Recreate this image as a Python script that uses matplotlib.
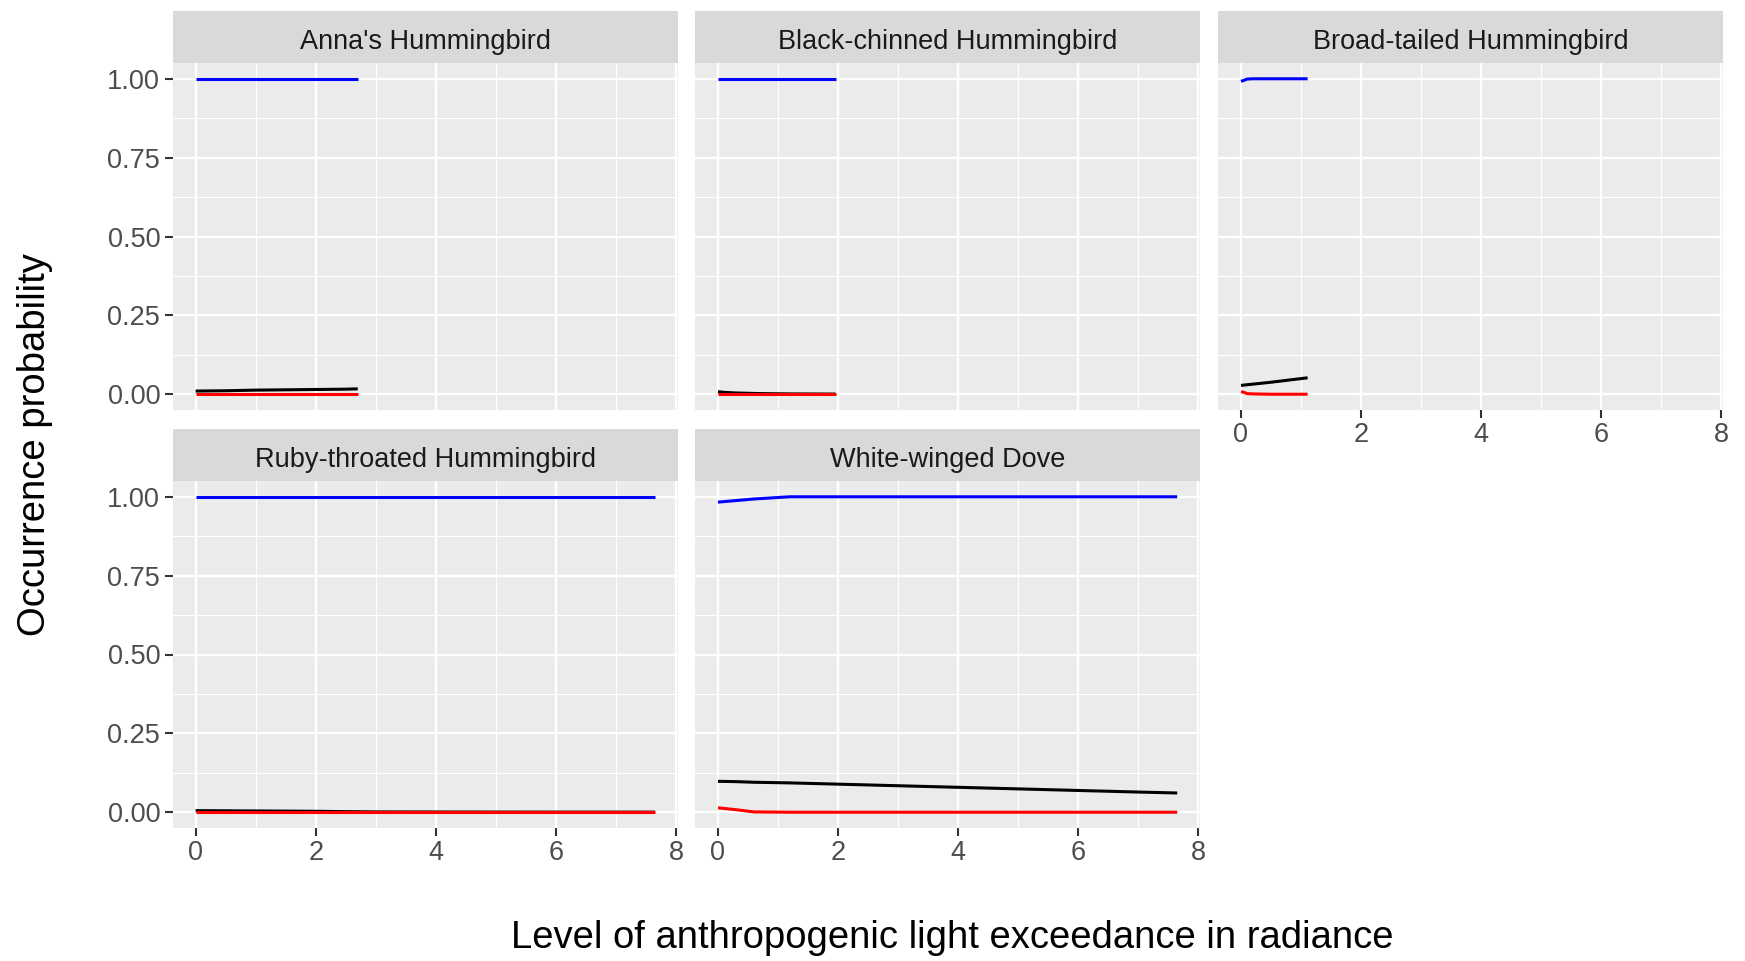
import numpy as np
import matplotlib.pyplot as plt

plt.rcParams['font.family'] = ['Liberation Sans', 'DejaVu Sans']

# species (facet order)
species = ["Anna's Hummingbird", "Black-chinned Hummingbird", "Broad-tailed Hummingbird",
           "Ruby-throated Hummingbird", "White-winged Dove"]

# radiance values and predicted probabilities
anna_x = [0, 0.5, 1.0, 1.5, 2.0, 2.5, 2.7]
anna_blue = [1.0, 1.0, 1.0, 1.0, 1.0, 1.0, 1.0]
anna_black = [0.010, 0.011, 0.013, 0.014, 0.015, 0.016, 0.017]
anna_red = [0.001, 0.001, 0.001, 0.001, 0.001, 0.001, 0.001]

bchin_x = [0, 0.1, 0.3, 0.7, 1.2, 1.96]
bchin_blue = [1.0, 1.0, 1.0, 1.0, 1.0, 1.0]
bchin_black = [0.008, 0.006, 0.004, 0.002, 0.001, 0.0005]
bchin_red = [0.0, 0.0, 0.0, 0.0, 0.0, 0.0]

btail_x = [0, 0.05, 0.1, 0.2, 0.5, 0.8, 1.11]
btail_blue = [0.992, 0.995, 0.999, 1.0, 1.0, 1.0, 1.0]
btail_black = [0.028, 0.029, 0.030, 0.032, 0.038, 0.045, 0.052]
btail_red = [0.008, 0.006, 0.002, 0.001, 0.0, 0.0, 0.0]

ruby_x = [0, 1, 2, 2.4, 3, 5, 7.65]
ruby_blue = [1.0, 1.0, 1.0, 1.0, 1.0, 1.0, 1.0]
ruby_black = [0.005, 0.004, 0.003, 0.002, 0.001, 0.0005, 0.0003]
ruby_red = [0.0, 0.0, 0.0, 0.0, 0.0, 0.0, 0.0]

wwd_x = [0, 0.3, 0.6, 1.2, 2, 3, 4, 5, 6, 7, 7.65]
wwd_blue = [0.983, 0.988, 0.993, 1.0, 1.0, 1.0, 1.0, 1.0, 1.0, 1.0, 1.0]
wwd_black = [0.098, 0.097, 0.095, 0.093, 0.089, 0.084, 0.079, 0.074, 0.069, 0.064, 0.061]
wwd_red = [0.014, 0.008, 0.001, 0.0, 0.0, 0.0, 0.0, 0.0, 0.0, 0.0, 0.0]

data = [
    (anna_x, anna_blue, anna_black, anna_red),
    (bchin_x, bchin_blue, bchin_black, bchin_red),
    (btail_x, btail_blue, btail_black, btail_red),
    (ruby_x, ruby_blue, ruby_black, ruby_red),
    (wwd_x, wwd_blue, wwd_black, wwd_red),
]

x_ticks = [0, 2, 4, 6, 8]
y_ticks = [0, 0.25, 0.5, 0.75, 1.0]
y_labels = ['0.00', '0.25', '0.50', '0.75', '1.00']

W, H = 1745, 961
fig = plt.figure(figsize=(W / 100, H / 100), dpi=100)

col_left = [172.7, 695, 1218]
pw = 505
row_top = [63, 481]   # panel top (px from top)
ph = 347
sh = 52

xmin, xmax = -0.3825, 8.03
ymin, ymax = -0.05, 1.05

for i, name in enumerate(species):
    r, c = divmod(i, 3)
    left = col_left[c] / W
    bottom = 1 - (row_top[r] + ph) / H
    ax = fig.add_axes([left, bottom, pw / W, ph / H])
    ax.set_facecolor('#EBEBEB')
    for s in ax.spines.values():
        s.set_visible(False)
    ax.set_xlim(xmin, xmax)
    ax.set_ylim(ymin, ymax)
    ax.set_xticks(x_ticks)
    ax.set_xticks([1, 3, 5, 7], minor=True)
    ax.set_yticks(y_ticks)
    ax.set_yticks([0.125, 0.375, 0.625, 0.875], minor=True)
    ax.grid(which='major', color='white', linewidth=1.7)
    ax.grid(which='minor', color='white', linewidth=0.8)
    ax.set_axisbelow(True)
    ax.tick_params(which='minor', length=0)
    ax.tick_params(which='major', length=5.5, width=1.5, color='#333333',
                   labelsize=19.5, labelcolor='#4D4D4D', pad=3.5)

    xs, blue, black, red = data[i]
    ax.plot(xs, blue, color='blue', lw=2.2, solid_capstyle='butt')
    ax.plot(xs, black, color='black', lw=2.2, solid_capstyle='butt')
    ax.plot(xs, red, color='red', lw=2.2, solid_capstyle='butt')

    if c == 0:
        ax.set_yticklabels(y_labels)
    else:
        ax.tick_params(axis='y', which='major', length=0, labelleft=False)
    if r == 1 or i == 2:
        ax.set_xticklabels([str(v) for v in x_ticks])
    else:
        ax.tick_params(axis='x', which='major', length=0, labelbottom=False)

    sax = fig.add_axes([left, 1 - row_top[r] / H, pw / W, sh / H])
    sax.set_facecolor('#D9D9D9')
    sax.set_xticks([])
    sax.set_yticks([])
    for s in sax.spines.values():
        s.set_visible(False)
    sax.text(0.5, 0.47, name, ha='center', va='center_baseline', fontsize=19.5,
             color='#1A1A1A', transform=sax.transAxes)

fig.text(35 / W, 1 - 445 / H, 'Occurrence probability', rotation=90,
         ha='center', va='center', fontsize=27.5)
fig.text(952 / W, 1 - 938 / H, 'Level of anthropogenic light exceedance in radiance',
         ha='center', va='center', fontsize=27.5)

fig.savefig('out.png', dpi=100, facecolor='white')
